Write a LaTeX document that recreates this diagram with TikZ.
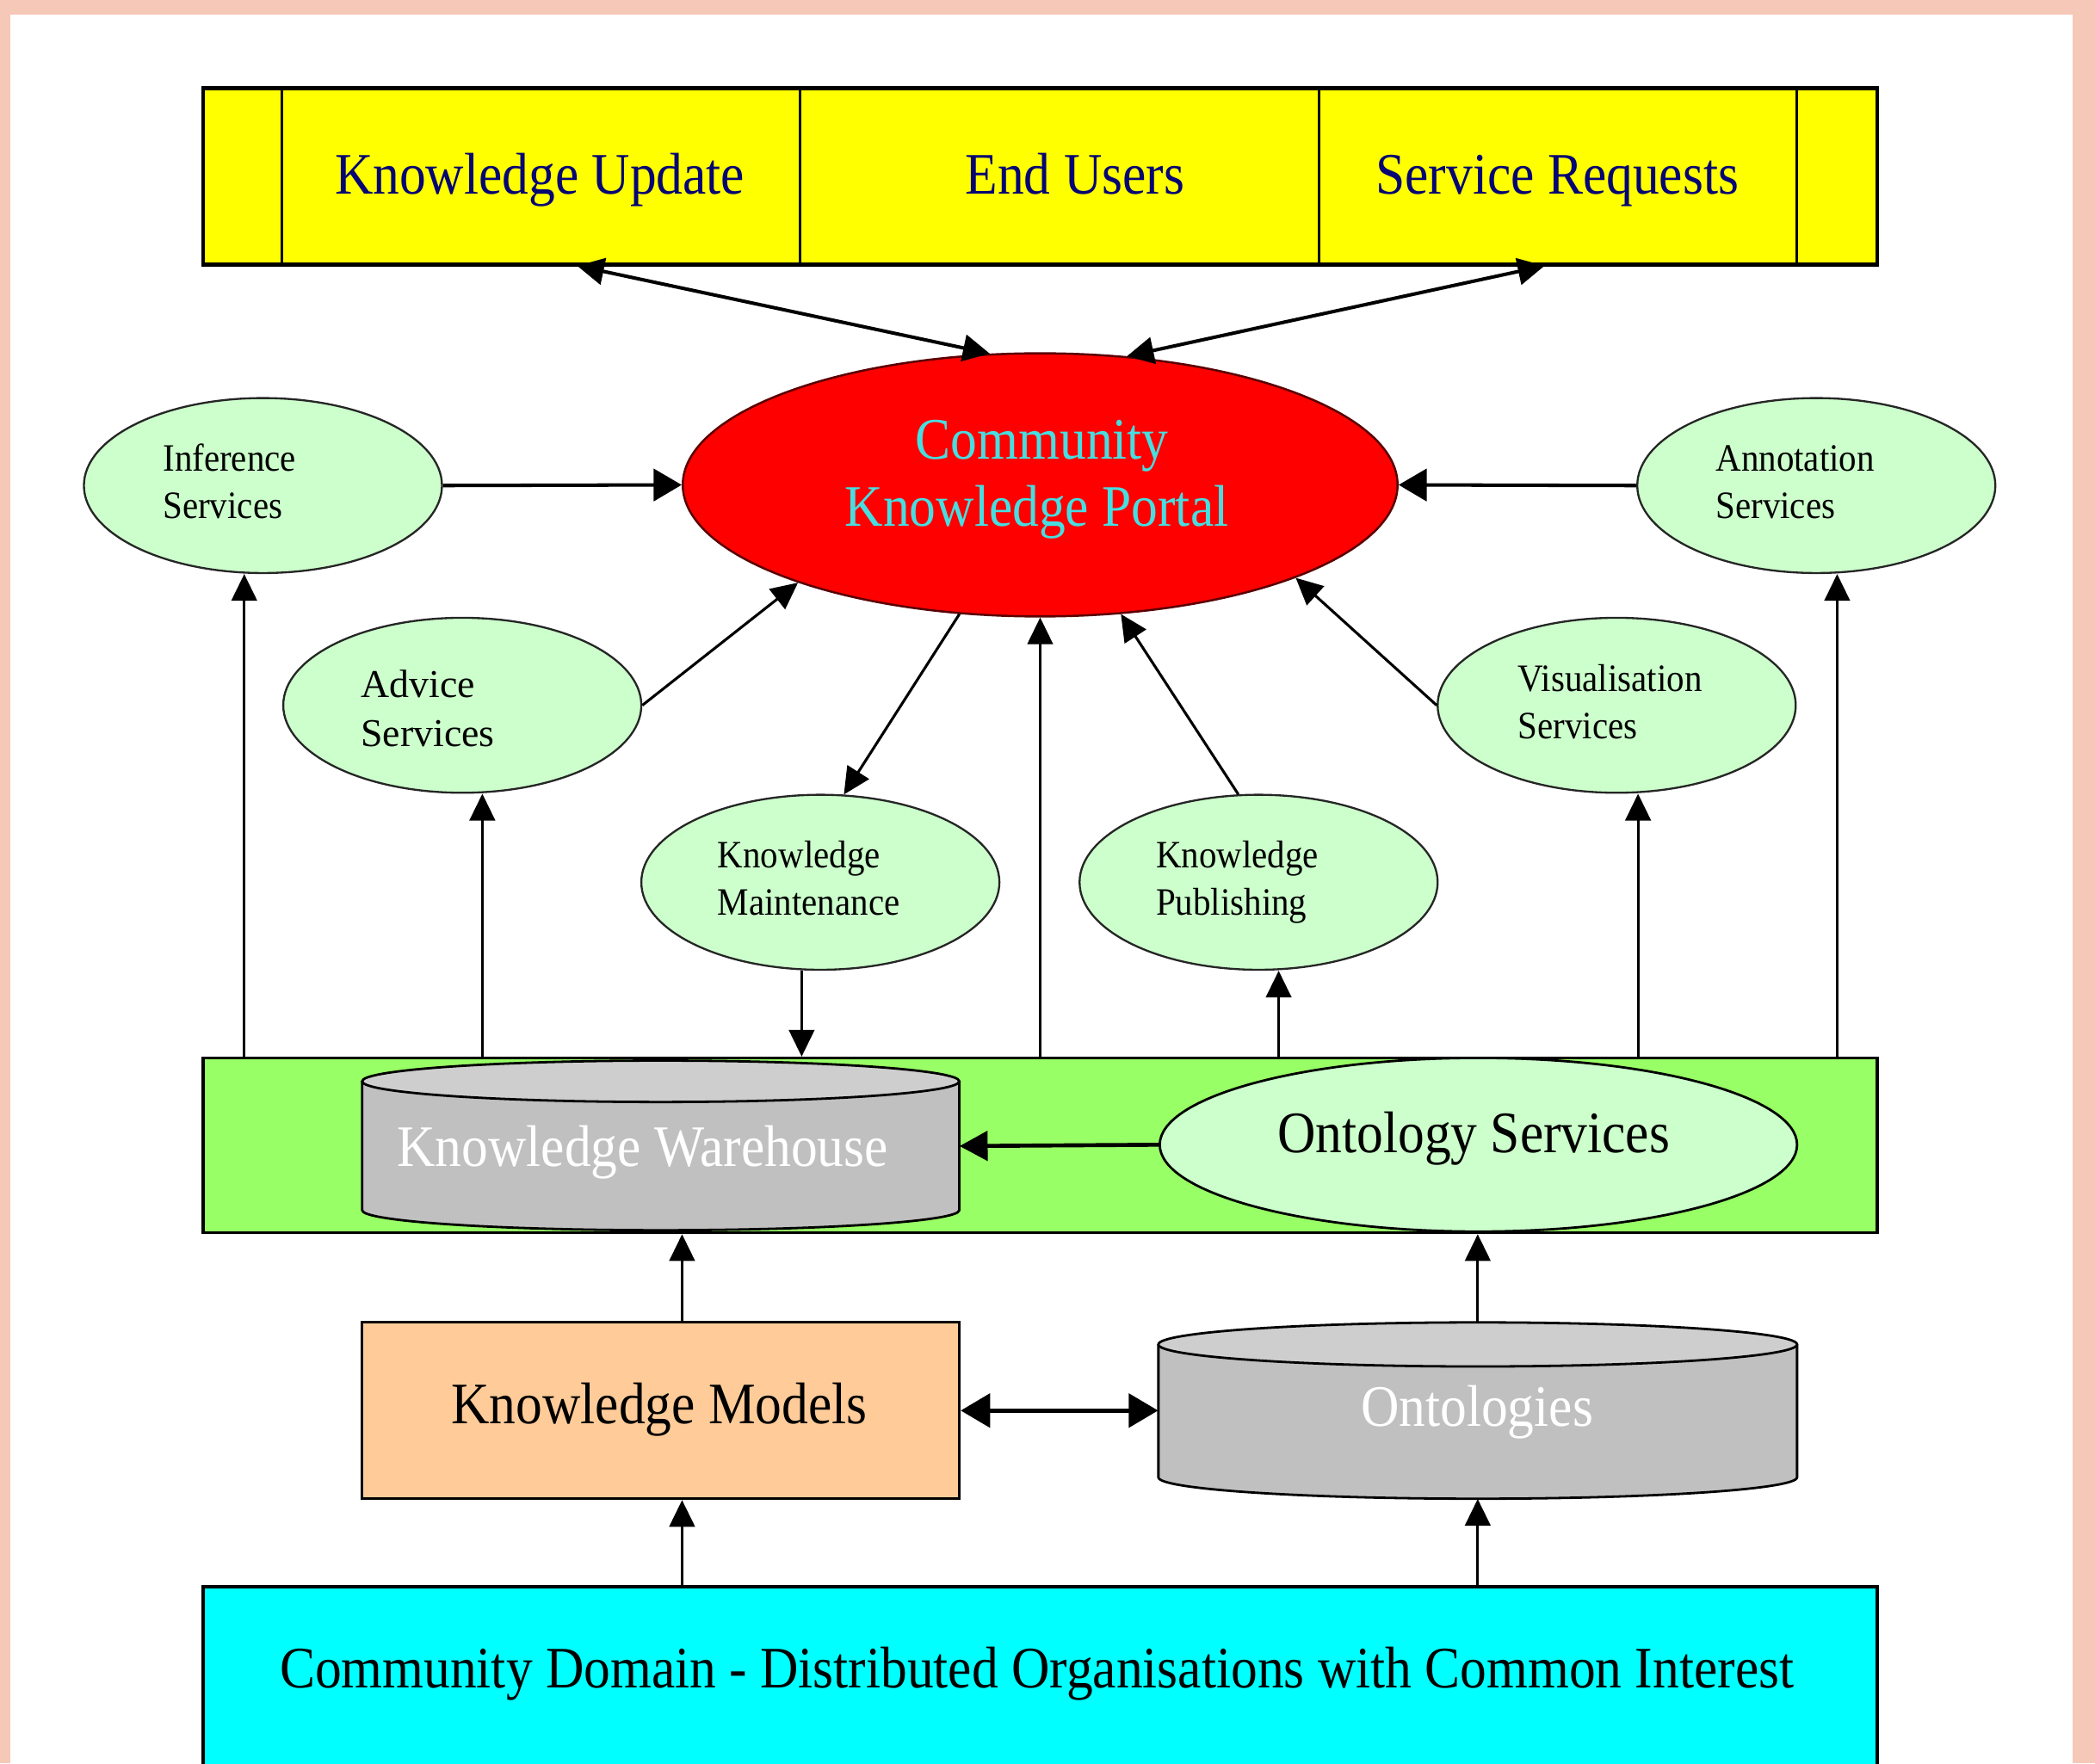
\documentclass[tikz,border=0pt]{standalone}
\usepackage{fontspec}
\setmainfont{Liberation Serif}
\usepackage{graphicx}
\usetikzlibrary{shapes.geometric,arrows.meta,calc}

\definecolor{framepink}{RGB}{246,200,183}
\definecolor{baryellow}{RGB}{255,255,0}
\definecolor{topnavy}{RGB}{5,5,115}
\definecolor{portalred}{RGB}{255,0,0}
\definecolor{portaledge}{RGB}{90,0,0}
\definecolor{portaltext}{RGB}{70,222,225}
\definecolor{svcgreen}{RGB}{204,255,204}
\definecolor{bandgreen}{RGB}{153,255,102}
\definecolor{cylbody}{RGB}{192,192,192}
\definecolor{cyltop}{RGB}{206,206,206}
\definecolor{modelpeach}{RGB}{255,204,153}
\definecolor{domaincyan}{RGB}{0,255,255}

% condensed serif lettering used throughout
\newcommand{\LargeLabel}[1]{\scalebox{0.9}[1]{\fontsize{44}{52}\selectfont #1}}
\newcommand{\SmallLabel}[1]{\scalebox{0.91}[1]{\fontsize{29}{35}\selectfont #1}}
\newcommand{\WideLabel}[1]{\scalebox{1.0}[1]{\fontsize{29.5}{35}\selectfont #1}}

\begin{document}
\begin{tikzpicture}[x=1pt,y=-1pt,
  lbig/.style={anchor=base, inner sep=0pt},
  lsmall/.style={anchor=base west, inner sep=0pt},
  svc/.style={ellipse, draw=black!85, line width=1.5pt, fill=svcgreen,
    minimum width=268pt, minimum height=131pt, inner sep=0pt},
  plainbox/.style={rectangle, inner sep=0pt},
  arr/.style={line width=2pt, -{Triangle[length=20pt,width=19pt]}},
  thickarr/.style={line width=2.6pt, -{Triangle[length=21pt,width=24pt]}},
  dblarr/.style={line width=2.6pt,
    {Triangle[length=20pt,width=20pt]}-{Triangle[length=20pt,width=20pt]}},
  widedblarr/.style={line width=3.5pt,
    {Triangle[length=22pt,width=25pt]}-{Triangle[length=22pt,width=25pt]}},
]
\path[use as bounding box] (0,0) rectangle (1568,1320);
\clip (0,0) rectangle (1568,1320);

% frame
\fill[framepink] (0,0) rectangle (1568,1320);
\fill[white] (8,11) rectangle (1551,1320);

% ---------- top bar ----------
\node[plainbox, draw=black, line width=3pt, fill=baryellow,
  minimum width=1253pt, minimum height=132pt] (bar) at (778.5,132) {};
\node[plainbox, draw=black, line width=2pt, minimum width=388pt, minimum height=132pt] (ku) at (405,132) {};
\node[plainbox, draw=black, line width=2pt, minimum width=388pt, minimum height=132pt] (eu) at (793,132) {};
\node[plainbox, draw=black, line width=2pt, minimum width=358pt, minimum height=132pt] (sr) at (1166,132) {};
\node[lbig, text=topnavy] (kut) at (404,145) {\LargeLabel{Knowledge Update}};
\node[lbig, text=topnavy] (eut) at (804.5,145) {\LargeLabel{End Users}};
\node[lbig, text=topnavy] (srt) at (1165.5,145) {\LargeLabel{Service Requests}};

% ---------- portal ----------
\node[ellipse, draw=portaledge, line width=1.6pt, fill=portalred,
  minimum width=535pt, minimum height=197pt, inner sep=0pt] (portal) at (778.5,363) {};
\node[lbig, text=portaltext] (pt1) at (780,343.5) {\LargeLabel{Community}};
\node[lbig, text=portaltext] (pt2) at (776,394) {\LargeLabel{Knowledge Portal}};

% ---------- service ellipses ----------
\node[svc] (inf) at (196.8,363.5) {};
\node[svc] (ann) at (1359.4,363.5) {};
\node[svc] (adv) at (346,528) {};
\node[svc] (vis) at (1210,528) {};
\node[svc] (mnt) at (614,660.5) {};
\node[svc] (pub) at (942,660.5) {};

\node[lsmall] (inf1) at (121.8,353) {\SmallLabel{Inference}};
\node[lsmall] (inf2) at (121.8,388) {\SmallLabel{Services}};
\node[lsmall] (ann1) at (1284,353) {\SmallLabel{Annotation}};
\node[lsmall] (ann2) at (1284,388) {\SmallLabel{Services}};
\node[lsmall] (adv1) at (270,522) {\WideLabel{Advice}};
\node[lsmall] (adv2) at (270,559) {\WideLabel{Services}};
\node[lsmall] (vis1) at (1136,517.5) {\SmallLabel{Visualisation}};
\node[lsmall] (vis2) at (1136,553) {\SmallLabel{Services}};
\node[lsmall] (mnt1) at (537,649.5) {\SmallLabel{Knowledge}};
\node[lsmall] (mnt2) at (537,685) {\SmallLabel{Maintenance}};
\node[lsmall] (pub1) at (865,649.5) {\SmallLabel{Knowledge}};
\node[lsmall] (pub2) at (865,685) {\SmallLabel{Publishing}};

% ---------- green band ----------
\node[plainbox, draw=black, line width=2pt, fill=bandgreen,
  minimum width=1253pt, minimum height=131pt] (band) at (778.5,857.5) {};

% knowledge warehouse cylinder
\fill[cylbody] (271,809.5) rectangle (718,906);
\fill[cylbody] (494.5,906) ellipse [x radius=223.5pt, y radius=15pt];
\draw[line width=1.8pt] (271,809.5) -- (271,906)
  arc[start angle=180, end angle=360, x radius=223.5pt, y radius=15pt] -- (718,809.5);
\draw[line width=1.8pt, fill=cyltop] (494.5,809.5) ellipse [x radius=223.5pt, y radius=15.5pt];
\node[plainbox, minimum width=447pt, minimum height=128pt] (wh) at (494.5,858) {};
\node[lbig, text=white] (wht) at (481,873) {\LargeLabel{Knowledge Warehouse}};

% ontology services
\node[ellipse, draw=black, line width=1.8pt, fill=svcgreen,
  minimum width=477pt, minimum height=130pt, inner sep=0pt] (os) at (1106.5,857) {};
\node[lbig] (ost) at (1103,863) {\LargeLabel{Ontology Services}};

% ---------- lower row ----------
\node[plainbox, draw=black, line width=2pt, fill=modelpeach,
  minimum width=447pt, minimum height=132pt] (km) at (494.5,1056) {};
\node[lbig] (kmt) at (493.5,1066) {\LargeLabel{Knowledge Models}};

% ontologies cylinder
\fill[cylbody] (867,1006.5) rectangle (1345,1106);
\fill[cylbody] (1106,1106) ellipse [x radius=239pt, y radius=16pt];
\draw[line width=1.8pt] (867,1006.5) -- (867,1106)
  arc[start angle=180, end angle=360, x radius=239pt, y radius=16pt] -- (1345,1006.5);
\draw[line width=1.8pt, fill=cyltop] (1106,1006.5) ellipse [x radius=239pt, y radius=16.5pt];
\node[plainbox, minimum width=478pt, minimum height=132pt] (ont) at (1106,1056) {};
\node[lbig, text=white] (ontt) at (1105.5,1068) {\LargeLabel{Ontologies}};

% community domain
\node[plainbox, draw=black, line width=2.5pt, fill=domaincyan,
  minimum width=1253pt, minimum height=140pt] (cd) at (778.5,1258) {};
\node[lbig] (cdt) at (776,1263.7) {\LargeLabel{Community Domain - Distributed Organisations with Common Interest}};

% ---------- connectors ----------
\coordinate (kuport) at ($(ku.south)+(27,0)$);
\coordinate (srport) at ($(sr.south)+(-10,0)$);
\draw[dblarr] (kuport) -- (portal.111);
\draw[dblarr] (srport) -- (portal.56);

\draw[thickarr] (inf.east) -- (portal.west);
\draw[thickarr] (ann.west) -- (portal.east);
\draw[arr] (adv.east) -- (portal.202);
\draw[arr] (vis.west) -- (portal.340);
\draw[arr] (portal.238) -- (mnt.75);
\draw[arr] (pub.103) -- (portal.302);
\draw[arr] (band.north -| portal.south) -- (portal.south);

\coordinate (infin) at ($(inf.south)+(-14,0)$);
\coordinate (advin) at ($(adv.south)+(15,0)$);
\coordinate (mntout) at ($(mnt.south)+(-14,0)$);
\coordinate (pubin) at ($(pub.south)+(15,0)$);
\coordinate (visin) at ($(vis.south)+(16,0)$);
\coordinate (annin) at ($(ann.south)+(15.6,0)$);
\draw[arr] (band.north -| infin) -- (infin);
\draw[arr] (band.north -| advin) -- (advin);
\draw[arr] (mntout) -- (band.north -| mntout);
\draw[arr] (band.north -| pubin) -- (pubin);
\draw[arr] (band.north -| visin) -- (visin);
\draw[arr] (band.north -| annin) -- (annin);

\draw[line width=3pt, -{Triangle[length=21pt,width=22pt]}] (os.west) -- (wh.east);

\coordinate (kmtop) at ($(km.north)+(16,0)$);
\coordinate (kmbot) at ($(km.south)+(16,0)$);
\draw[arr] (kmtop) -- (band.south -| kmtop);
\draw[arr] (ont.north) -- (band.south -| ont.north);
\draw[widedblarr] (km.east) -- (ont.west);
\draw[arr] (cd.north -| kmbot) -- (kmbot);
\draw[arr] (cd.north -| ont.south) -- (ont.south);

\end{tikzpicture}
\end{document}
